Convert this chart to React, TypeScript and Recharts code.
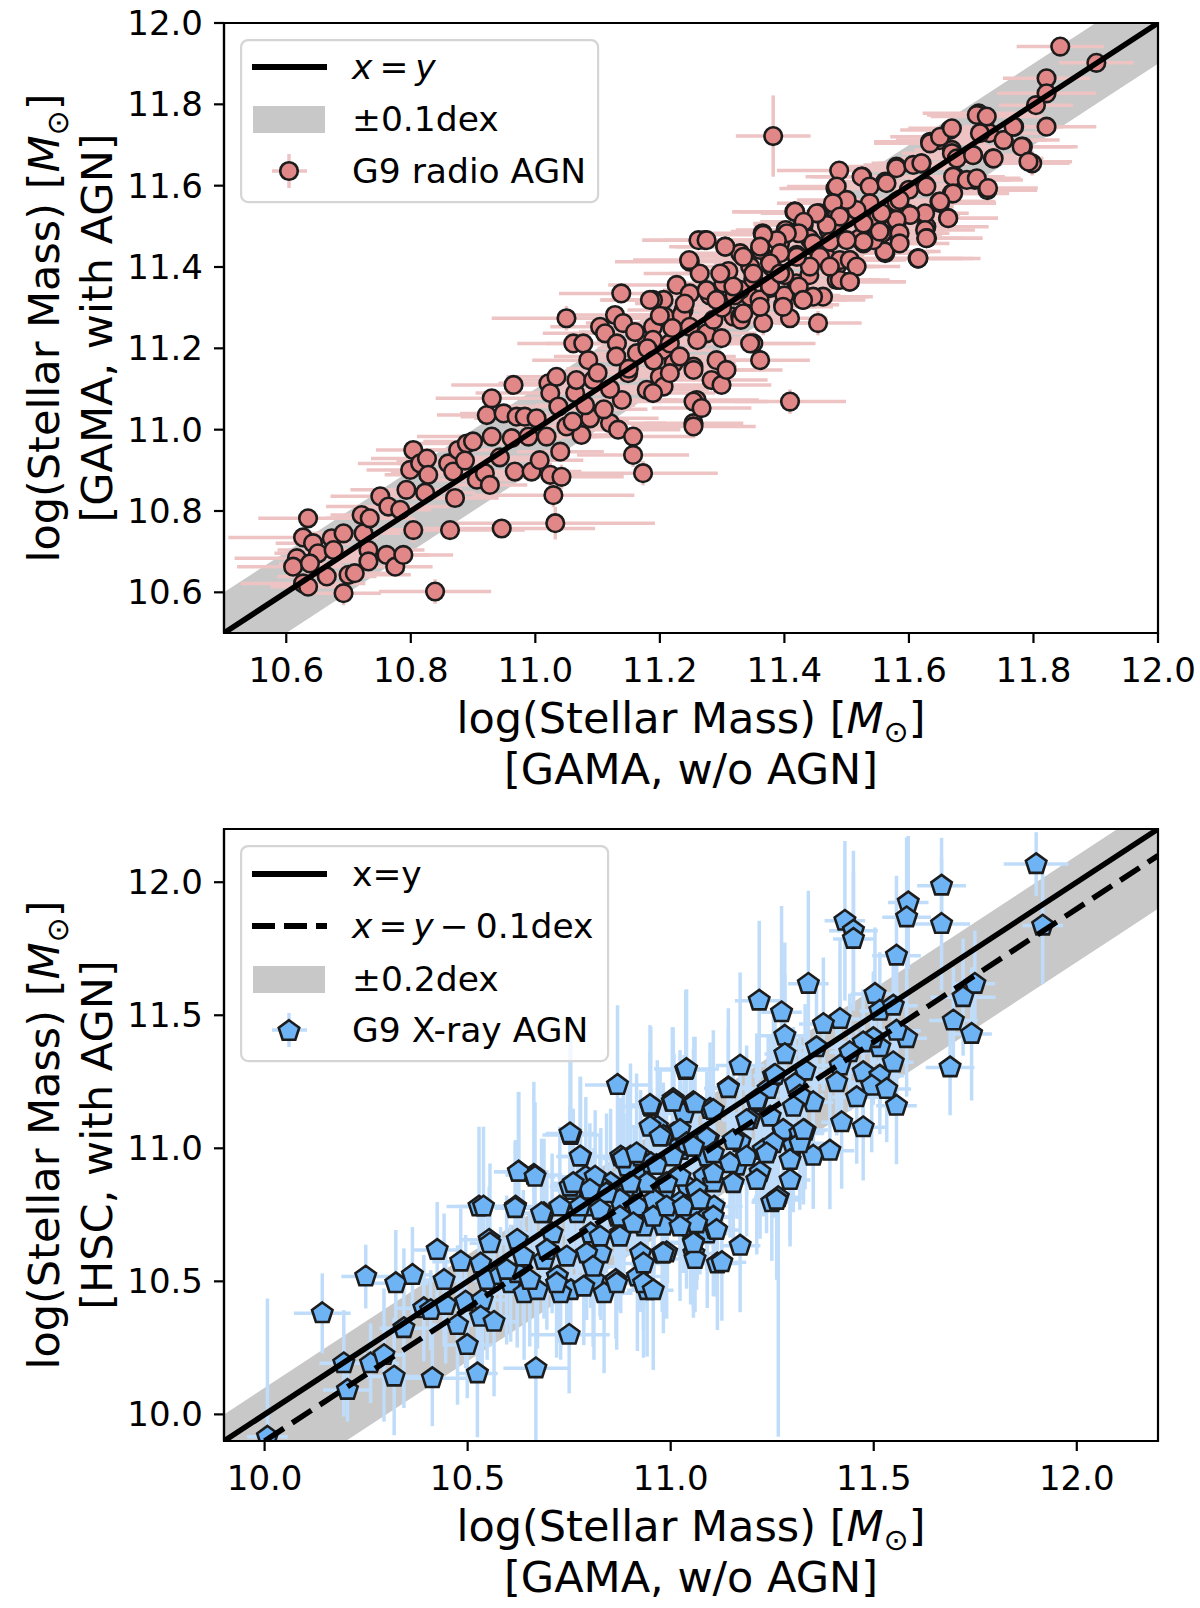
import React from 'react';
import {
  ComposedChart,
  XAxis,
  YAxis,
  Scatter,
  ErrorBar,
  Area,
  ReferenceLine,
  ReferenceArea,
  Legend,
} from 'recharts';

const FONT = '"DejaVu Sans", "Noto Sans", sans-serif';

// ---------------- top panel: radio AGN ----------------
const radioDomain = [10.5, 12.0];
const radioTicks = [10.6, 10.8, 11.0, 11.2, 11.4, 11.6, 11.8, 12.0];
const radioLine = [{ x: 10.5, y: 10.5 }, { x: 12.0, y: 12.0 }];
// band +-0.1 dex around x=y (edges clipped to the axes box)
const radioBand = [
  { x: 10.5, lo: 10.5, hi: 10.6 },
  { x: 10.6, lo: 10.5, hi: 10.7 },
  { x: 11.9, lo: 11.8, hi: 12.0 },
  { x: 12.0, lo: 11.9, hi: 12.0 },
];
// [x, y, xerr, yerr]
const radioAgn: number[][] = [
  [10.635, 10.782, 0.08, 0.02], [10.627, 10.735, 0.12, 0.02], [10.617, 10.684, 0.1, 0.02], [10.611, 10.663, 0.09, 0.02],
  [10.643, 10.721, 0.06, 0.02], [10.651, 10.696, 0.07, 0.03], [10.638, 10.671, 0.05, 0.02], [10.627, 10.622, 0.1, 0.02],
  [10.635, 10.614, 0.06, 0.02], [10.665, 10.639, 0.08, 0.02], [10.673, 10.733, 0.05, 0.02], [10.692, 10.745, 0.07, 0.02],
  [10.676, 10.704, 0.09, 0.02], [10.692, 10.598, 0.06, 0.03], [10.7, 10.643, 0.1, 0.02], [10.71, 10.647, 0.08, 0.02],
  [10.721, 10.79, 0.05, 0.02], [10.724, 10.745, 0.06, 0.02], [10.734, 10.782, 0.07, 0.02], [10.732, 10.704, 0.09, 0.02],
  [10.732, 10.676, 0.06, 0.02], [10.751, 10.836, 0.08, 0.02], [10.764, 10.811, 0.1, 0.02], [10.761, 10.692, 0.07, 0.02],
  [10.775, 10.663, 0.06, 0.02], [10.783, 10.803, 0.05, 0.02], [10.788, 10.692, 0.08, 0.02], [10.793, 10.852, 0.09, 0.02],
  [10.799, 10.901, 0.07, 0.02], [10.804, 10.95, 0.06, 0.02], [10.815, 10.917, 0.1, 0.02], [10.804, 10.753, 0.06, 0.03],
  [10.823, 10.845, 0.08, 0.02], [10.826, 10.929, 0.09, 0.02], [10.828, 10.889, 0.07, 0.02], [10.839, 10.602, 0.09, 0.03],
  [10.863, 10.753, 0.12, 0.02], [10.86, 10.917, 0.08, 0.02], [10.871, 10.832, 0.07, 0.02], [10.868, 10.897, 0.1, 0.02],
  [10.876, 10.95, 0.06, 0.02], [10.89, 10.966, 0.09, 0.02], [10.887, 10.924, 0.11, 0.02], [10.9, 10.971, 0.08, 0.02],
  [10.906, 10.877, 0.07, 0.02], [10.919, 10.893, 0.1, 0.02], [10.927, 10.864, 0.06, 0.02], [10.922, 11.036, 0.08, 0.02],
  [10.93, 11.077, 0.09, 0.02], [10.93, 10.983, 0.12, 0.02], [10.946, 10.757, 0.15, 0.02], [10.943, 10.932, 0.08, 0.02],
  [10.949, 11.04, 0.07, 0.02], [10.965, 11.11, 0.1, 0.02], [10.962, 10.979, 0.08, 0.02], [10.967, 10.897, 0.06, 0.02],
  [10.97, 11.032, 0.09, 0.02], [10.983, 11.032, 0.07, 0.02], [10.989, 10.983, 0.11, 0.02], [10.994, 10.897, 0.08, 0.02],
  [11.002, 11.028, 0.1, 0.03], [11.007, 10.925, 0.07, 0.02], [11.018, 10.983, 0.09, 0.02], [11.021, 11.114, 0.08, 0.02],
  [11.024, 11.09, 0.12, 0.02], [11.024, 10.889, 0.1, 0.03], [11.029, 10.839, 0.13, 0.03], [11.032, 10.77, 0.16, 0.04],
  [11.034, 11.13, 0.08, 0.02], [11.037, 11.057, 0.09, 0.02], [11.04, 10.946, 0.07, 0.02], [11.042, 10.884, 0.1, 0.03],
  [11.05, 11.274, 0.12, 0.03], [11.05, 11.008, 0.08, 0.02], [11.061, 11.212, 0.09, 0.02], [11.064, 11.09, 0.07, 0.02],
  [11.066, 11.122, 0.1, 0.02], [11.074, 10.987, 0.08, 0.02], [11.077, 11.212, 0.06, 0.02], [11.085, 11.171, 0.09, 0.02],
  [11.088, 11.028, 0.11, 0.02], [11.093, 11.122, 0.07, 0.02], [11.104, 11.253, 0.08, 0.02], [11.112, 11.237, 0.1, 0.02],
  [11.12, 11.016, 0.09, 0.02], [11.128, 11.282, 0.07, 0.02], [11.131, 11.212, 0.08, 0.02], [11.133, 11.0, 0.1, 0.02],
  [11.139, 11.073, 0.09, 0.02], [11.141, 11.262, 0.06, 0.02], [11.149, 11.139, 0.08, 0.02], [11.157, 10.983, 0.1, 0.03],
  [11.157, 10.938, 0.09, 0.03], [11.173, 10.893, 0.12, 0.03], [11.163, 11.188, 0.07, 0.02], [11.179, 11.221, 0.08, 0.02],
  [11.179, 11.098, 0.1, 0.02], [11.189, 11.253, 0.09, 0.02], [11.2, 11.13, 0.07, 0.02], [11.205, 11.196, 0.08, 0.02],
  [11.222, 11.163, 0.1, 0.02], [11.23, 11.27, 0.06, 0.02], [11.238, 11.294, 0.09, 0.02], [11.254, 11.016, 0.08, 0.02],
  [11.259, 11.073, 0.1, 0.02], [11.254, 11.155, 0.07, 0.02],
  [11.272, 11.466, 0.1, 0.02], [11.305, 11.45, 0.08, 0.02], [11.248, 11.413, 0.12, 0.02], [11.264, 11.384, 0.09, 0.02],
  [11.227, 11.356, 0.11, 0.02], [11.248, 11.335, 0.08, 0.02], [11.206, 11.319, 0.1, 0.02], [11.189, 11.319, 0.07, 0.02],
  [11.208, 11.278, 0.09, 0.02], [11.235, 11.282, 0.08, 0.02], [11.189, 11.221, 0.07, 0.02], [11.216, 11.212, 0.1, 0.02],
  [11.248, 11.253, 0.09, 0.02], [11.275, 11.237, 0.08, 0.02], [11.299, 11.225, 0.06, 0.02], [11.286, 11.27, 0.1, 0.02],
  [11.318, 11.278, 0.07, 0.02], [11.329, 11.278, 0.09, 0.02], [11.366, 11.262, 0.08, 0.03], [11.35, 11.212, 0.1, 0.02],
  [11.361, 11.171, 0.08, 0.02], [11.409, 11.274, 0.06, 0.02], [11.454, 11.262, 0.07, 0.03], [11.398, 11.307, 0.09, 0.02],
  [11.43, 11.319, 0.1, 0.02], [11.462, 11.327, 0.08, 0.02], [11.484, 11.368, 0.07, 0.02], [11.505, 11.364, 0.09, 0.02],
  [11.419, 11.36, 0.08, 0.02], [11.377, 11.348, 0.1, 0.02], [11.345, 11.327, 0.09, 0.02], [11.329, 11.344, 0.07, 0.02],
  [11.302, 11.36, 0.08, 0.02], [11.345, 11.401, 0.1, 0.02], [11.377, 11.417, 0.09, 0.02], [11.361, 11.442, 0.07, 0.02],
  [11.329, 11.434, 0.08, 0.02], [11.393, 11.458, 0.1, 0.02], [11.404, 11.487, 0.09, 0.02], [11.43, 11.507, 0.08, 0.02],
  [11.457, 11.532, 0.07, 0.02], [11.473, 11.503, 0.09, 0.02], [11.492, 11.557, 0.08, 0.02], [11.516, 11.528, 0.1, 0.02],
  [11.527, 11.458, 0.09, 0.02], [11.505, 11.417, 0.08, 0.02], [11.484, 11.401, 0.07, 0.02], [11.559, 11.487, 0.1, 0.02],
  [11.561, 11.438, 0.08, 0.02], [11.58, 11.507, 0.09, 0.02], [11.583, 11.479, 0.07, 0.02], [11.602, 11.528, 0.08, 0.02],
  [11.628, 11.499, 0.1, 0.02], [11.628, 11.471, 0.09, 0.02], [11.615, 11.421, 0.07, 0.02], [11.663, 11.52, 0.08, 0.02],
  [11.65, 11.557, 0.09, 0.02], [11.417, 11.536, 0.1, 0.02], [11.345, 11.212, 0.08, 0.02], [11.283, 11.122, 0.09, 0.02],
  [11.299, 11.11, 0.08, 0.02], [11.254, 11.147, 0.1, 0.02], [11.291, 11.171, 0.07, 0.02], [11.307, 11.147, 0.09, 0.02],
  [11.254, 11.069, 0.12, 0.02], [11.267, 11.053, 0.08, 0.02], [11.254, 11.008, 0.1, 0.02], [11.409, 11.069, 0.09, 0.03],
  [11.206, 11.106, 0.08, 0.02], [11.216, 11.139, 0.07, 0.02], [11.189, 11.09, 0.1, 0.02], [11.232, 11.18, 0.09, 0.02],
  [11.843, 11.942, 0.07, 0.02], [11.901, 11.902, 0.06, 0.02], [11.821, 11.864, 0.07, 0.02], [11.821, 11.827, 0.08, 0.02],
  [11.804, 11.798, 0.06, 0.02], [11.821, 11.745, 0.08, 0.02], [11.798, 11.655, 0.06, 0.03], [11.769, 11.745, 0.07, 0.02],
  [11.783, 11.696, 0.08, 0.02], [11.752, 11.712, 0.09, 0.02], [11.735, 11.667, 0.07, 0.02], [11.729, 11.729, 0.08, 0.02],
  [11.712, 11.778, 0.09, 0.02], [11.703, 11.675, 0.07, 0.02], [11.726, 11.589, 0.08, 0.02], [11.706, 11.614, 0.06, 0.02],
  [11.666, 11.737, 0.08, 0.02], [11.649, 11.712, 0.07, 0.02], [11.634, 11.708, 0.09, 0.02], [11.669, 11.688, 0.06, 0.02],
  [11.674, 11.622, 0.08, 0.02], [11.669, 11.581, 0.07, 0.02], [11.649, 11.561, 0.09, 0.02], [11.626, 11.602, 0.07, 0.02],
  [11.62, 11.655, 0.08, 0.02], [11.58, 11.647, 0.09, 0.02], [11.382, 11.722, 0.06, 0.1], [11.488, 11.637, 0.1, 0.02],
  [11.525, 11.622, 0.08, 0.02], [11.482, 11.593, 0.09, 0.02], [11.5, 11.557, 0.07, 0.02], [11.562, 11.61, 0.08, 0.02],
  [11.582, 11.548, 0.09, 0.02], [11.626, 11.532, 0.07, 0.02], [11.626, 11.491, 0.08, 0.02], [11.629, 11.471, 0.06, 0.02],
  [11.614, 11.421, 0.09, 0.02], [11.597, 11.532, 0.08, 0.02], [11.574, 11.516, 0.07, 0.02], [11.557, 11.483, 0.08, 0.02],
  [11.528, 11.466, 0.09, 0.02], [11.562, 11.434, 0.07, 0.02], [11.454, 11.532, 0.09, 0.02], [11.416, 11.536, 0.1, 0.02],
  [11.431, 11.503, 0.08, 0.02], [11.471, 11.491, 0.07, 0.02], [11.448, 11.45, 0.09, 0.02], [11.402, 11.491, 0.08, 0.02],
  [11.365, 11.483, 0.1, 0.02], [11.247, 11.417, 0.09, 0.02], [11.138, 11.335, 0.1, 0.02], [11.184, 11.319, 0.08, 0.02],
  [11.262, 11.466, 0.09, 0.02],
  [11.3, 11.3, 0.08, 0.02], [11.32, 11.33, 0.09, 0.02], [11.35, 11.37, 0.07, 0.02], [11.38, 11.4, 0.08, 0.02],
  [11.4, 11.38, 0.1, 0.02], [11.42, 11.43, 0.09, 0.02], [11.44, 11.47, 0.07, 0.02], [11.46, 11.45, 0.08, 0.02],
  [11.48, 11.5, 0.09, 0.02], [11.5, 11.52, 0.07, 0.02], [11.36, 11.32, 0.1, 0.02], [11.33, 11.27, 0.08, 0.02],
  [11.4, 11.33, 0.09, 0.02], [11.44, 11.38, 0.07, 0.02], [11.47, 11.42, 0.08, 0.02], [11.52, 11.47, 0.1, 0.02],
  [11.55, 11.52, 0.09, 0.02], [11.58, 11.56, 0.07, 0.02], [11.6, 11.59, 0.08, 0.02], [11.26, 11.22, 0.09, 0.02],
  [11.22, 11.25, 0.07, 0.02], [11.18, 11.2, 0.08, 0.02], [11.15, 11.15, 0.1, 0.02], [11.12, 11.1, 0.09, 0.02],
  [11.1, 11.14, 0.07, 0.02], [11.08, 11.06, 0.08, 0.02], [11.06, 11.02, 0.09, 0.02], [11.2, 11.28, 0.07, 0.02],
  [11.24, 11.31, 0.08, 0.02], [11.13, 11.18, 0.1, 0.02], [11.16, 11.24, 0.09, 0.02], [11.11, 11.05, 0.07, 0.02],
  [11.19, 11.17, 0.08, 0.02], [11.28, 11.33, 0.09, 0.02], [11.31, 11.39, 0.07, 0.02],
];
// additional points read from the dense core (x 11.3-11.8)
const radioAgnCore: number[][] = [
  [11.484, 11.598, 0.08, 0.02], [11.524, 11.622, 0.09, 0.02], [11.537, 11.598, 0.07, 0.02], [11.564, 11.606, 0.08, 0.02],
  [11.58, 11.643, 0.1, 0.02], [11.607, 11.651, 0.08, 0.02], [11.62, 11.655, 0.07, 0.02], [11.634, 11.704, 0.09, 0.02],
  [11.65, 11.72, 0.08, 0.02], [11.669, 11.741, 0.07, 0.02], [11.669, 11.68, 0.08, 0.02], [11.677, 11.667, 0.09, 0.02],
  [11.703, 11.675, 0.07, 0.02], [11.709, 11.774, 0.08, 0.02], [11.725, 11.77, 0.09, 0.02], [11.714, 11.729, 0.07, 0.02],
  [11.736, 11.667, 0.08, 0.02], [11.752, 11.712, 0.07, 0.02], [11.768, 11.745, 0.08, 0.02], [11.781, 11.696, 0.09, 0.02],
  [11.792, 11.659, 0.07, 0.02], [11.671, 11.622, 0.08, 0.02], [11.693, 11.614, 0.09, 0.02], [11.709, 11.618, 0.07, 0.02],
  [11.727, 11.594, 0.08, 0.02], [11.671, 11.581, 0.09, 0.02], [11.65, 11.561, 0.07, 0.02], [11.663, 11.52, 0.08, 0.02],
  [11.628, 11.471, 0.09, 0.02], [11.615, 11.421, 0.1, 0.02], [11.602, 11.528, 0.07, 0.02], [11.628, 11.598, 0.08, 0.02],
  [11.585, 11.565, 0.09, 0.02], [11.58, 11.516, 0.07, 0.02], [11.585, 11.483, 0.08, 0.02], [11.561, 11.438, 0.09, 0.02],
  [11.543, 11.466, 0.07, 0.02], [11.553, 11.487, 0.08, 0.02], [11.527, 11.462, 0.09, 0.02], [11.527, 11.507, 0.07, 0.02],
  [11.556, 11.532, 0.08, 0.02], [11.537, 11.557, 0.09, 0.02], [11.516, 11.54, 0.07, 0.02], [11.5, 11.565, 0.08, 0.02],
  [11.478, 11.557, 0.09, 0.02], [11.489, 11.524, 0.07, 0.02], [11.468, 11.503, 0.08, 0.02], [11.452, 11.532, 0.09, 0.02],
  [11.473, 11.462, 0.07, 0.02], [11.489, 11.417, 0.08, 0.02], [11.505, 11.417, 0.09, 0.02], [11.516, 11.401, 0.07, 0.02],
  [11.5, 11.466, 0.08, 0.02], [11.417, 11.536, 0.09, 0.02], [11.431, 11.511, 0.07, 0.02], [11.423, 11.483, 0.08, 0.02],
  [11.446, 11.458, 0.09, 0.02], [11.457, 11.425, 0.07, 0.02], [11.441, 11.401, 0.08, 0.02], [11.42, 11.425, 0.09, 0.02],
  [11.404, 11.483, 0.07, 0.02], [11.388, 11.466, 0.08, 0.02], [11.366, 11.479, 0.09, 0.02], [11.361, 11.45, 0.07, 0.02],
  [11.393, 11.434, 0.08, 0.02], [11.377, 11.409, 0.09, 0.02], [11.35, 11.384, 0.07, 0.02], [11.334, 11.425, 0.08, 0.02],
  [11.305, 11.45, 0.09, 0.02], [11.275, 11.466, 0.07, 0.02], [11.297, 11.384, 0.08, 0.02], [11.318, 11.352, 0.09, 0.02],
  [11.275, 11.343, 0.07, 0.02], [11.291, 11.319, 0.08, 0.02], [11.377, 11.352, 0.09, 0.02], [11.393, 11.384, 0.07, 0.02],
  [11.423, 11.352, 0.08, 0.02], [11.446, 11.327, 0.09, 0.02], [11.43, 11.319, 0.07, 0.02], [11.398, 11.302, 0.08, 0.02],
  [11.361, 11.302, 0.09, 0.02], [11.334, 11.286, 0.07, 0.02], [11.489, 11.368, 0.08, 0.02], [11.505, 11.364, 0.09, 0.02],
  [11.473, 11.401, 0.07, 0.02], [11.585, 11.458, 0.08, 0.02],
];

// ---------------- bottom panel: X-ray AGN ----------------
const xrayDomain = [9.9, 12.2];
const xrayTicks = [10.0, 10.5, 11.0, 11.5, 12.0];
const xraySolidLine = [{ x: 9.9, y: 9.9 }, { x: 12.2, y: 12.2 }];
const xrayDashedLine = [{ x: 10.0, y: 9.9 }, { x: 12.2, y: 12.1 }];
// band +-0.2 dex around the dashed line (edges clipped to the axes box)
const xrayBand = [
  { x: 9.9, lo: 9.9, hi: 10.0 },
  { x: 10.2, lo: 9.9, hi: 10.3 },
  { x: 12.1, lo: 11.8, hi: 12.2 },
  { x: 12.2, lo: 11.9, hi: 12.2 },
];
// [x, y, xerr, yerr]  (yerr may be [below, above])
const xrayAgn: any[][] = [
  [10.142, 10.38, 0.07, 0.15], [10.249, 10.518, 0.06, 0.12], [10.323, 10.493, 0.08, 0.2], [10.364, 10.524, 0.05, 0.18],
  [10.195, 10.192, 0.06, 0.2], [10.261, 10.192, 0.07, 0.15], [10.294, 10.223, 0.05, 0.25], [10.204, 10.092, 0.06, 0.12],
  [10.319, 10.142, 0.08, 0.22], [10.413, 10.136, 0.09, 0.18], [10.343, 10.324, 0.06, 0.3], [10.392, 10.399, 0.07, 0.2],
  [10.409, 10.392, 0.05, 0.15], [10.425, 10.618, 0.06, 0.18], [10.442, 10.505, 0.08, 0.25], [10.446, 10.411, 0.06, 0.22],
  [10.475, 10.336, 0.07, 0.3], [10.499, 10.261, 0.06, 0.2], [10.524, 10.154, 0.05, 0.24], [10.483, 10.574, 0.07, 0.2],
  [10.495, 10.424, 0.06, 0.25], [10.528, 10.781, 0.08, 0.3], [10.532, 10.567, 0.06, 0.22], [10.553, 10.656, 0.07, 0.2],
  [10.548, 10.505, 0.05, 0.3], [10.536, 10.43, 0.06, 0.25], [10.532, 10.367, 0.07, 0.2], [10.565, 10.348, 0.06, 0.28],
  [10.581, 10.524, 0.05, 0.18], [10.606, 10.493, 0.07, 0.22], [10.626, 10.912, 0.06, 0.3], [10.618, 10.781, 0.05, 0.25],
  [10.663, 10.9, 0.07, 0.35], [10.622, 10.656, 0.06, 0.2], [10.639, 10.455, 0.07, 0.25], [10.672, 10.467, 0.06, 0.22],
  [10.668, 10.173, 0.08, 0.27], [10.688, 10.756, 0.06, 0.28], [10.688, 10.58, 0.05, 0.22], [10.708, 10.68, 0.07, 0.3],
  [10.721, 10.518, 0.06, 0.25], [10.754, 10.467, 0.05, 0.2], [10.75, 10.299, 0.1, 0.22], [10.754, 11.05, 0.07, 0.35],
  [10.778, 10.969, 0.06, 0.3], [10.758, 10.843, 0.05, 0.28], [10.77, 10.756, 0.06, 0.25], [10.791, 10.893, 0.07, 0.3],
  [10.811, 10.781, 0.05, 0.22], [10.803, 10.68, 0.06, 0.28], [10.828, 10.605, 0.07, 0.25], [10.811, 10.505, 0.05, 0.3],
  [10.786, 10.48, 0.06, 0.22], [10.869, 11.238, 0.08, 0.3], [10.852, 10.869, 0.06, 0.28], [10.869, 10.743, 0.05, 0.25],
  [10.877, 10.68, 0.07, 0.3], [10.865, 10.505, 0.06, 0.22], [10.901, 10.969, 0.05, 0.35], [10.926, 10.906, 0.07, 0.28],
  [10.918, 10.781, 0.06, 0.25], [10.934, 10.706, 0.05, 0.3], [10.926, 10.605, 0.07, 0.22], [10.918, 10.518, 0.06, 0.28],
  [10.942, 10.467, 0.05, 0.25], [10.951, 11.156, 0.07, 0.3], [10.967, 11.081, 0.06, 0.25], [11.004, 11.175, 0.05, 0.28],
  [11.037, 11.294, 0.07, 0.3], [11.057, 11.169, 0.06, 0.25], [11.033, 11.131, 0.05, 0.22], [11.008, 11.056, 0.07, 0.3],
  [11.049, 11.006, 0.06, 0.28], [11.025, 10.994, 0.05, 0.25], [11.016, 10.893, 0.07, 0.22], [11.041, 10.856, 0.06, 0.3],
  [11.065, 10.756, 0.05, 0.25], [11.049, 10.693, 0.07, 0.28], [11.057, 10.605, 0.06, 0.22], [10.983, 10.83, 0.05, 0.3],
  [10.992, 10.743, 0.07, 0.25], [10.959, 10.806, 0.06, 0.28], [10.979, 10.605, 0.05, 0.22], [11.107, 10.781, 0.07, 0.3],
  [11.115, 10.567, 0.06, 0.25], [11.09, 10.68, 0.05, 0.28], [10.91, 10.856, 0.07, 0.22], [10.885, 10.83, 0.06, 0.3],
  [11.082, 10.893, 0.05, 0.25], [11.09, 10.969, 0.07, 0.28], [10.877, 10.969, 0.06, 0.22], [10.893, 10.931, 0.05, 0.3],
  [10.926, 10.969, 0.07, 0.25], [10.951, 10.944, 0.06, 0.28], [10.828, 10.856, 0.05, 0.22], [10.836, 10.455, 0.07, 0.3],
  [10.729, 10.455, 0.06, 0.25], [10.622, 10.531, 0.05, 0.28], [10.007, 9.916, 0.05, [0.016, 0.52]],
  [11.9, 12.068, 0.08, 0.12], [11.916, 11.837, 0.05, 0.22], [11.667, 11.987, 0.06, 0.18], [11.585, 11.924, 0.05, 0.25],
  [11.581, 11.868, 0.06, 0.3], [11.667, 11.843, 0.07, 0.25], [11.429, 11.855, 0.05, 0.3], [11.45, 11.818, 0.06, 0.3],
  [11.45, 11.787, 0.05, 0.25], [11.556, 11.724, 0.06, 0.3], [11.339, 11.618, 0.05, 0.35], [11.218, 11.555, 0.06, 0.3],
  [11.273, 11.511, 0.05, 0.4], [11.281, 11.423, 0.06, 0.35], [11.281, 11.354, 0.05, 0.3], [11.171, 11.311, 0.06, 0.35],
  [11.039, 11.298, 0.08, 0.3], [11.503, 11.58, 0.06, 0.25], [11.515, 11.517, 0.05, 0.22], [11.548, 11.536, 0.06, 0.2],
  [11.417, 11.486, 0.05, 0.3], [11.376, 11.467, 0.06, 0.25], [11.749, 11.618, 0.05, 0.2], [11.72, 11.568, 0.08, 0.22],
  [11.696, 11.48, 0.06, 0.2], [11.741, 11.43, 0.05, 0.25], [11.688, 11.304, 0.06, 0.18], [11.581, 11.414, 0.05, 0.22],
  [11.556, 11.442, 0.06, 0.25], [11.548, 11.323, 0.05, 0.2], [11.515, 11.38, 0.06, 0.22], [11.499, 11.414, 0.05, 0.25],
  [11.474, 11.398, 0.06, 0.2], [11.441, 11.361, 0.05, 0.22], [11.417, 11.311, 0.06, 0.25], [11.474, 11.286, 0.05, 0.2],
  [11.515, 11.273, 0.06, 0.22], [11.495, 11.235, 0.05, 0.25], [11.532, 11.223, 0.06, 0.2], [11.556, 11.16, 0.05, 0.22],
  [11.458, 11.192, 0.06, 0.25], [11.409, 11.248, 0.05, 0.2], [11.359, 11.38, 0.06, 0.22], [11.421, 11.098, 0.05, 0.25],
  [11.474, 11.079, 0.06, 0.2], [11.351, 11.173, 0.05, 0.22], [11.331, 11.292, 0.06, 0.25], [11.306, 11.242, 0.05, 0.2],
  [11.318, 11.198, 0.06, 0.22], [11.253, 11.273, 0.05, 0.25], [11.24, 11.223, 0.06, 0.2], [11.142, 11.229, 0.05, 0.22],
  [11.097, 11.148, 0.06, 0.25], [11.056, 11.173, 0.05, 0.2], [11.006, 11.185, 0.06, 0.22], [11.212, 11.173, 0.05, 0.25],
  [11.277, 11.06, 0.06, 0.2], [11.331, 11.066, 0.05, 0.22], [11.302, 11.01, 0.06, 0.25], [11.351, 10.972, 0.05, 0.2],
  [11.392, 10.991, 0.06, 0.22], [11.171, 11.023, 0.05, 0.25], [11.195, 11.11, 0.06, 0.2], [11.093, 11.035, 0.05, 0.22],
  [11.023, 11.01, 0.06, 0.25], [10.982, 11.047, 0.05, 0.2], [11.24, 10.997, 0.06, 0.22], [11.22, 10.91, 0.05, 0.25],
  [11.163, 10.935, 0.06, 0.2], [11.105, 10.872, 0.05, 0.22], [11.064, 10.835, 0.06, 0.25], [11.023, 10.797, 0.05, 0.2],
  [10.982, 10.709, 0.06, 0.22], [11.039, 10.722, 0.05, 0.25], [11.089, 10.741, 0.06, 0.2], [11.109, 10.697, 0.05, 0.22],
  [11.056, 10.647, 0.06, 0.25], [11.06, 10.584, 0.05, 0.2], [11.126, 10.572, 0.06, 0.22], [11.171, 10.634, 0.05, 0.25],
  [11.265, 10.816, 0.06, [0.9, 0.2]], [11.249, 10.797, 0.05, 0.22], [10.99, 10.609, 0.06, 0.25],
];
// additional points read from the dense core (x 10.5-11.3)
const xrayAgnCore: number[][] = [
  [11.142, 11.226, 0.06, 0.3], [11.257, 11.276, 0.05, 0.25], [10.949, 11.163, 0.06, 0.3], [11.006, 11.175, 0.05, 0.28],
  [11.06, 11.169, 0.06, 0.25], [11.105, 11.144, 0.05, 0.3], [10.949, 11.081, 0.06, 0.28], [10.974, 11.044, 0.05, 0.25],
  [11.023, 11.069, 0.06, 0.3], [11.039, 11.019, 0.05, 0.28], [11.089, 11.038, 0.06, 0.25], [11.154, 11.031, 0.05, 0.3],
  [11.187, 11.106, 0.06, 0.28], [11.212, 11.182, 0.05, 0.25], [11.245, 11.119, 0.06, 0.3], [11.277, 11.069, 0.05, 0.28],
  [11.318, 11.056, 0.06, 0.25], [11.302, 11.156, 0.05, 0.3], [10.752, 11.056, 0.06, 0.35], [10.777, 10.969, 0.05, 0.3],
  [10.625, 10.912, 0.06, 0.3], [10.666, 10.893, 0.05, 0.28], [10.539, 10.781, 0.06, 0.3], [10.617, 10.775, 0.05, 0.25],
  [10.682, 10.756, 0.06, 0.28], [10.752, 10.856, 0.05, 0.3], [10.814, 10.893, 0.06, 0.25], [10.883, 10.962, 0.05, 0.28],
  [10.916, 10.981, 0.06, 0.3], [10.965, 10.937, 0.05, 0.25], [11.006, 10.969, 0.06, 0.28], [11.056, 11.006, 0.05, 0.3],
  [11.105, 10.981, 0.06, 0.25], [11.146, 10.944, 0.05, 0.28], [11.187, 10.969, 0.06, 0.3], [11.228, 10.994, 0.05, 0.25],
  [11.253, 11.019, 0.06, 0.28], [11.294, 10.956, 0.05, 0.3], [11.318, 11.019, 0.06, 0.25], [11.212, 10.881, 0.05, 0.28],
  [11.261, 10.806, 0.06, 0.3], [11.154, 10.869, 0.05, 0.25], [11.105, 10.906, 0.06, 0.28], [11.064, 10.844, 0.05, 0.3],
  [11.023, 10.893, 0.06, 0.25], [10.99, 10.869, 0.05, 0.28], [10.941, 10.869, 0.06, 0.3], [10.9, 10.869, 0.05, 0.25],
  [10.875, 10.806, 0.06, 0.28], [10.842, 10.831, 0.05, 0.3], [10.801, 10.844, 0.06, 0.25], [10.76, 10.869, 0.05, 0.28],
  [10.727, 10.781, 0.06, 0.3], [10.777, 10.781, 0.05, 0.25], [10.826, 10.768, 0.06, 0.28], [10.875, 10.743, 0.05, 0.3],
  [10.908, 10.718, 0.06, 0.25], [10.957, 10.743, 0.05, 0.28], [10.99, 10.781, 0.06, 0.3], [11.031, 10.781, 0.05, 0.25],
  [11.072, 10.806, 0.06, 0.28], [11.105, 10.743, 0.05, 0.3], [11.113, 10.693, 0.06, 0.25], [11.056, 10.643, 0.05, 0.28],
  [10.982, 10.605, 0.06, 0.3], [10.933, 10.567, 0.05, 0.25], [10.875, 10.668, 0.06, 0.28], [10.826, 10.668, 0.05, 0.3],
  [10.793, 10.605, 0.06, 0.25], [10.744, 10.593, 0.05, 0.28], [10.695, 10.618, 0.06, 0.3], [10.637, 10.593, 0.05, 0.25],
  [10.596, 10.543, 0.06, 0.28], [10.555, 10.643, 0.05, 0.3], [10.653, 10.505, 0.06, 0.25], [10.719, 10.493, 0.05, 0.28],
  [10.809, 10.555, 0.06, 0.3], [10.867, 10.493, 0.05, 0.25], [10.933, 10.493, 0.06, 0.28], [10.957, 10.467, 0.05, 0.3],
  [11.064, 10.718, 0.06, 0.25], [11.023, 10.706, 0.05, 0.28], [11.236, 10.981, 0.06, 0.3], [11.294, 10.881, 0.05, 0.25],
  [11.327, 11.069, 0.06, 0.28],
];

const toRows = (arr: any[][]) => arr.map(([x, y, xe, ye]) => ({ x, y, xe, ye }));
const fmt = (v: number) => v.toFixed(1);

// ---------------- shared drawing helpers ----------------
const CircleMarker = (p: any) => (
  <circle cx={p.cx} cy={p.cy} r={8.8} fill="#E18787" stroke="#1c1c1c" strokeWidth={2.6} />
);
const pentPoints = (cx: number, cy: number, r: number) =>
  [0, 1, 2, 3, 4]
    .map((k) => {
      const a = ((-90 + 72 * k) * Math.PI) / 180;
      return `${cx + r * Math.cos(a)},${cy + r * Math.sin(a)}`;
    })
    .join(' ');
const PentMarker = (p: any) => (
  <polygon points={pentPoints(p.cx, p.cy, 10.8)} fill="#6EB4F5" stroke="#1c1c1c" strokeWidth={2.6} />
);
const NoMarker = () => <g />;

const LABEL_FS = 43;

const MSun = () => (
  <>
    <tspan fontStyle="italic">M</tspan>
    <tspan fontSize={30} dy={9}>⊙</tspan>
    <tspan dy={-9}>]</tspan>
  </>
);

const makeXLabel = (line2: string) => (props: any) => {
  const vb = props.viewBox || { x: 224, y: 633, width: 934 };
  const cx = vb.x + vb.width / 2;
  return (
    <g>
      <text x={cx} y={vb.y + 100} textAnchor="middle" fontSize={LABEL_FS} fontFamily={FONT} fill="#000">
        log(Stellar Mass) [<MSun />
      </text>
      <text x={cx} y={vb.y + 151} textAnchor="middle" fontSize={LABEL_FS} fontFamily={FONT} fill="#000">
        {line2}
      </text>
    </g>
  );
};

const makeYLabel = (line2: string) => (props: any) => {
  const vb = props.viewBox || { x: 0, y: 23, width: 224, height: 610 };
  const cy = vb.y + vb.height / 2;
  return (
    <g>
      <text transform={`translate(59, ${cy}) rotate(-90)`} textAnchor="middle" fontSize={LABEL_FS} fontFamily={FONT} fill="#000">
        log(Stellar Mass) [<MSun />
      </text>
      <text transform={`translate(112, ${cy}) rotate(-90)`} textAnchor="middle" fontSize={LABEL_FS} fontFamily={FONT} fill="#000">
        {line2}
      </text>
    </g>
  );
};

const legendText = { fontSize: 34.5, fontFamily: FONT, fill: '#000' } as const;

const RadioLegend = () => (
  <svg width={362} height={167} style={{ display: 'block' }}>
    <rect x={1.1} y={1.1} width={357} height={162} rx={7} fill="#fff" fillOpacity={0.8} stroke="#d5d5d5" strokeWidth={2.2} />
    <line x1={12} y1={28} x2={87} y2={28} stroke="#000" strokeWidth={6} />
    <text x={112} y={28} dominantBaseline="central" {...legendText}>
      <tspan fontStyle="italic">x</tspan>
      <tspan dx={7}>=</tspan>
      <tspan dx={7} fontStyle="italic">y</tspan>
    </text>
    <rect x={13} y={67} width={72} height={27} fill="#c8c8c8" />
    <text x={112} y={80} dominantBaseline="central" {...legendText}>±0.1dex</text>
    <line x1={32} y1={132} x2={67} y2={132} stroke="#EEC3C3" strokeWidth={3.5} />
    <line x1={49} y1={115} x2={49} y2={149} stroke="#EEC3C3" strokeWidth={3.5} />
    <circle cx={49} cy={132} r={8.8} fill="#E18787" stroke="#1c1c1c" strokeWidth={2.6} />
    <text x={112} y={132} dominantBaseline="central" {...legendText}>G9 radio AGN</text>
  </svg>
);

const XrayLegend = () => (
  <svg width={372} height={220} style={{ display: 'block' }}>
    <rect x={1.1} y={1.1} width={367} height={215} rx={7} fill="#fff" fillOpacity={0.8} stroke="#d5d5d5" strokeWidth={2.2} />
    <line x1={12} y1={29} x2={87} y2={29} stroke="#000" strokeWidth={6} />
    <text x={112} y={29} dominantBaseline="central" {...legendText}>x=y</text>
    <line x1={12} y1={81} x2={87} y2={81} stroke="#000" strokeWidth={6} strokeDasharray="23 9" />
    <text x={112} y={81} dominantBaseline="central" {...legendText}>
      <tspan fontStyle="italic">x</tspan>
      <tspan dx={6}>=</tspan>
      <tspan dx={6} fontStyle="italic">y</tspan>
      <tspan dx={6}>−</tspan>
      <tspan dx={7}>0.1dex</tspan>
    </text>
    <rect x={13} y={121} width={72} height={27} fill="#c8c8c8" />
    <text x={112} y={134} dominantBaseline="central" {...legendText}>±0.2dex</text>
    <line x1={32} y1={185} x2={67} y2={185} stroke="#BFDDFA" strokeWidth={3.5} />
    <line x1={49} y1={168} x2={49} y2={202} stroke="#BFDDFA" strokeWidth={3.5} />
    <polygon points={pentPoints(49, 186, 10.8)} fill="#6EB4F5" stroke="#1c1c1c" strokeWidth={2.6} />
    <text x={112} y={185} dominantBaseline="central" {...legendText}>G9 X-ray AGN</text>
  </svg>
);

type PanelProps = {
  top: number;
  height: number;
  marginTop: number;
  domain: number[];
  ticks: number[];
  band: { x: number; lo: number; hi: number }[];
  rows: any[];
  errColor: string;
  marker: any;
  yLine2: string;
  lines: { seg: { x: number; y: number }[]; dash?: string }[];
  legend: React.ReactNode;
  legendPos: { left: number; top: number; width: number; height: number };
};

const axisStroke = { stroke: '#000', strokeWidth: 2.2 };

function Panel(p: PanelProps) {
  return (
    <div style={{ position: 'absolute', left: 0, top: p.top, width: 1200, height: p.height }}>
      <ComposedChart
        width={1200}
        height={p.height}
        margin={{ top: p.marginTop, right: 42, bottom: 7, left: 0 }}
        style={{ fontFamily: FONT }}
      >
        <XAxis
          dataKey="x"
          type="number"
          domain={p.domain}
          allowDataOverflow
          ticks={p.ticks}
          interval={0}
          tickFormatter={fmt}
          height={160}
          tickSize={10}
          tickMargin={15}
          axisLine={axisStroke}
          tickLine={axisStroke}
          tick={{ fill: '#000', fontSize: 34, fontFamily: FONT }}
          label={makeXLabel('[GAMA, w/o AGN]')}
        />
        <YAxis
          type="number"
          domain={p.domain}
          allowDataOverflow
          ticks={p.ticks}
          interval={0}
          tickFormatter={fmt}
          width={224}
          tickSize={10}
          tickMargin={11}
          axisLine={axisStroke}
          tickLine={axisStroke}
          tick={{ fill: '#000', fontSize: 34, fontFamily: FONT }}
          label={makeYLabel(p.yLine2)}
        />
        <Area
          data={p.band}
          dataKey={(d: any) => [d.lo, d.hi]}
          type="linear"
          fill="#c8c8c8"
          fillOpacity={1}
          stroke="none"
          dot={false}
          activeDot={false}
          isAnimationActive={false}
        />
        <Scatter data={p.rows} dataKey="y" shape={NoMarker} isAnimationActive={false} zIndex={590}>
          <ErrorBar dataKey="xe" direction="x" width={0} stroke={p.errColor} strokeWidth={3.5} zIndex={580} />
          <ErrorBar dataKey="ye" direction="y" width={0} stroke={p.errColor} strokeWidth={3.5} zIndex={580} />
        </Scatter>
        <Scatter data={p.rows} dataKey="y" shape={p.marker} isAnimationActive={false} zIndex={600} />
        {p.lines.map((l, i) => (
          <ReferenceLine
            key={i}
            segment={l.seg}
            stroke="#000"
            strokeWidth={5.5}
            strokeDasharray={l.dash}
            ifOverflow="hidden"
            zIndex={800}
          />
        ))}
        <ReferenceArea
          x1={p.domain[0]}
          x2={p.domain[1]}
          y1={p.domain[0]}
          y2={p.domain[1]}
          fill="none"
          fillOpacity={0}
          stroke="#000"
          strokeWidth={2.2}
          ifOverflow="visible"
          zIndex={900}
        />
        <Legend
          layout="vertical"
          align="center"
          verticalAlign="middle"
          content={() => p.legend}
          wrapperStyle={{ position: 'absolute', left: p.legendPos.left, top: p.legendPos.top, width: p.legendPos.width, height: p.legendPos.height }}
        />
      </ComposedChart>
    </div>
  );
}

export default function App() {
  return (
    <div style={{ position: 'absolute', left: 0, top: 0, width: 1200, height: 1608, background: '#fff', fontFamily: FONT }}>
      <Panel
        top={0}
        height={800}
        marginTop={23}
        domain={radioDomain}
        ticks={radioTicks}
        band={radioBand}
        rows={toRows([...radioAgn, ...radioAgnCore])}
        errColor="#EEC3C3"
        marker={CircleMarker}
        yLine2="[GAMA, with AGN]"
        lines={[{ seg: radioLine }]}
        legend={<RadioLegend />}
        legendPos={{ left: 240, top: 39, width: 362, height: 167 }}
      />
      <Panel
        top={800}
        height={808}
        marginTop={29}
        domain={xrayDomain}
        ticks={xrayTicks}
        band={xrayBand}
        rows={toRows([...xrayAgn, ...xrayAgnCore])}
        errColor="#BFDDFA"
        marker={PentMarker}
        yLine2="[HSC, with AGN]"
        lines={[{ seg: xraySolidLine }, { seg: xrayDashedLine, dash: '23 10' }]}
        legend={<XrayLegend />}
        legendPos={{ left: 240, top: 45, width: 372, height: 220 }}
      />
    </div>
  );
}
